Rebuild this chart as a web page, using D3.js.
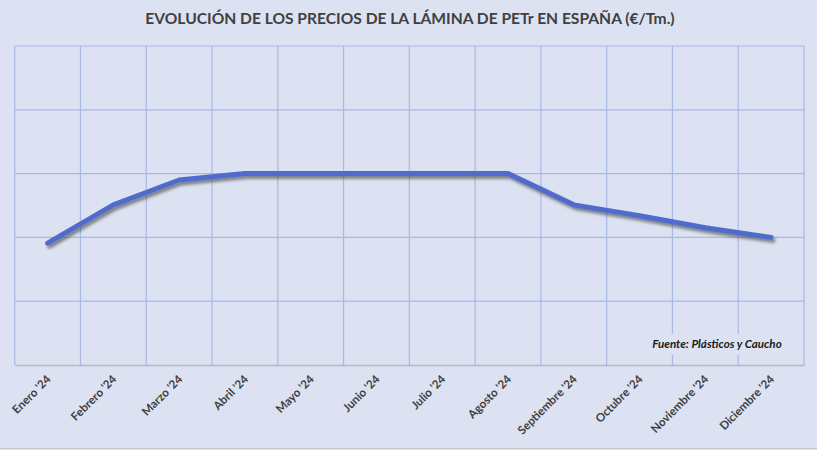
<!DOCTYPE html>
<html>
<head>
<meta charset="utf-8">
<script src="https://cdn.jsdelivr.net/npm/d3@7"></script>
<style>
  html, body { margin: 0; padding: 0; background: #dce2f2; }
  svg { display: block; }
  text { font-family: Lato, "Open Sans", sans-serif; }
</style>
</head>
<body>
<svg id="chart" width="817" height="450"></svg>
<script>
const title = "EVOLUCIÓN DE LOS PRECIOS DE LA LÁMINA DE PETr EN ESPAÑA (€/Tm.)";
const source = "Fuente: Plásticos y Caucho";
const months = ["Enero '24", "Febrero '24", "Marzo '24", "Abril '24", "Mayo '24", "Junio '24",
                "Julio '24", "Agosto '24", "Septiembre '24", "Octubre '24", "Noviembre '24", "Diciembre '24"];
// relative price level (y axis has no labels; units = gridline steps)
const prices = [1.91, 2.51, 2.90, 3.0, 3.0, 3.0, 3.0, 3.0, 2.51, 2.34, 2.15, 2.0];
const yTicks = [0, 1, 2, 3, 4, 5];

const W = 817, H = 450;
const m = { left: 14.7, right: 13, top: 46, bottom: 85 };
const svg = d3.select("#chart");

svg.append("rect").attr("x", 0).attr("y", 0).attr("width", W).attr("height", H).attr("fill", "#dce2f2");
svg.append("line").attr("x1", 0).attr("x2", W).attr("y1", 448.5).attr("y2", 448.5)
  .attr("stroke", "#c4c8d0").attr("stroke-width", 1);

const defs = svg.append("defs");
const f = defs.append("filter").attr("id", "shadow").attr("x", "-10%").attr("y", "-30%")
  .attr("width", "120%").attr("height", "160%");
f.append("feDropShadow").attr("dx", 2).attr("dy", 3).attr("stdDeviation", 1.6)
  .attr("flood-color", "#404040").attr("flood-opacity", 0.6);

const x = d3.scaleBand().domain(months).range([m.left, W - m.right]);
const y = d3.scaleLinear().domain([0, 5]).range([H - m.bottom, m.top]);

const grid = svg.append("g");
grid.selectAll("line.h").data(yTicks.slice(1)).join("line")
  .attr("x1", m.left).attr("x2", W - m.right)
  .attr("y1", d => y(d)).attr("y2", d => y(d))
  .attr("stroke", "#a9b8e8").attr("stroke-width", 1.2);
const bounds = months.map(d => x(d)).concat([x(months[months.length - 1]) + x.bandwidth()]);
grid.selectAll("line.v").data(bounds).join("line")
  .attr("x1", d => d).attr("x2", d => d)
  .attr("y1", m.top).attr("y2", y(0))
  .attr("stroke", "#a9b8e8").attr("stroke-width", 1.2);

const xAxis = svg.append("g").attr("transform", `translate(0,${y(0)})`)
  .call(d3.axisBottom(x).tickSize(0).tickPadding(0));
xAxis.select(".domain").attr("stroke", "#b4b8c4").attr("stroke-width", 1.3);
xAxis.selectAll(".tick text")
  .attr("fill", "#404040").attr("font-size", 11.6).attr("font-weight", "bold")
  .attr("text-anchor", "end").attr("dy", 0)
  .attr("transform", "translate(4,15) rotate(-45)");

const line = d3.line().x((d, i) => x(months[i]) + x.bandwidth() / 2).y(d => y(d));
svg.append("path").datum(prices)
  .attr("d", line).attr("fill", "none")
  .attr("stroke", "#4f6ccc").attr("stroke-width", 5)
  .attr("stroke-linejoin", "round").attr("stroke-linecap", "round")
  .attr("filter", "url(#shadow)");

svg.append("rect").attr("x", 648).attr("y", 334).attr("width", 139).attr("height", 21).attr("fill", "#dce2f2");
svg.append("text").attr("x", 717).attr("y", 348).attr("text-anchor", "middle")
  .attr("font-size", 11.6).attr("font-weight", "bold").attr("font-style", "italic")
  .attr("fill", "#1a1a1a").text(source);

svg.append("text").attr("x", 410).attr("y", 24).attr("text-anchor", "middle")
  .attr("font-size", 15.6).attr("font-weight", "bold").attr("fill", "#404040").text(title);
</script>
</body>
</html>
